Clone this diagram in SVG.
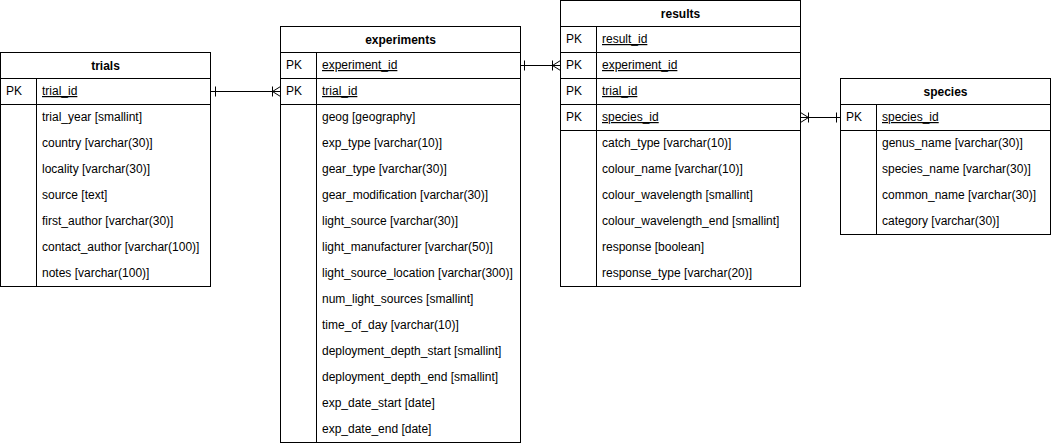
<svg xmlns="http://www.w3.org/2000/svg" width="1053" height="446" viewBox="0 0 1053 446">
  <style>
    .box { fill: #ffffff; stroke: #000000; stroke-width: 1; }
    .ln { fill: none; stroke: #000000; stroke-width: 1; }
    text { font-family: "Liberation Sans", Arial, sans-serif; font-size: 12px; fill: #000000; }
    .title { font-weight: bold; text-anchor: middle; }
    .key { text-decoration: underline; }
  </style>
  <rect width="1053" height="446" fill="#ffffff"/>

  <!-- trials table -->
  <g id="trials">
    <rect class="box" x="0.5" y="52.5" width="210" height="234"/>
    <path class="ln" d="M0.5 78.5H210.5M0.5 104.5H210.5M36.5 78.5V286.5"/>
    <text class="title" x="105.5" y="70">trials</text>
    <text x="6" y="95">PK</text>
    <text class="key" x="42" y="95">trial_id</text>
    <text x="42" y="121">trial_year [smallint]</text>
    <text x="42" y="147">country [varchar(30)]</text>
    <text x="42" y="173">locality [varchar(30)]</text>
    <text x="42" y="199">source [text]</text>
    <text x="42" y="225">first_author [varchar(30)]</text>
    <text x="42" y="251">contact_author [varchar(100)]</text>
    <text x="42" y="277">notes [varchar(100)]</text>
  </g>

  <!-- experiments table -->
  <g id="experiments">
    <rect class="box" x="280.5" y="26.5" width="240" height="416"/>
    <path class="ln" d="M280.5 52.5H520.5M280.5 78.5H520.5M280.5 104.5H520.5M316.5 52.5V442.5"/>
    <text class="title" x="400.5" y="44">experiments</text>
    <text x="286" y="69">PK</text>
    <text class="key" x="322" y="69">experiment_id</text>
    <text x="286" y="95">PK</text>
    <text class="key" x="322" y="95">trial_id</text>
    <text x="322" y="121">geog [geography]</text>
    <text x="322" y="147">exp_type [varchar(10)]</text>
    <text x="322" y="173">gear_type [varchar(30)]</text>
    <text x="322" y="199">gear_modification [varchar(30)]</text>
    <text x="322" y="225">light_source [varchar(30)]</text>
    <text x="322" y="251">light_manufacturer [varchar(50)]</text>
    <text x="322" y="277">light_source_location [varchar(300)]</text>
    <text x="322" y="303">num_light_sources [smallint]</text>
    <text x="322" y="329">time_of_day [varchar(10)]</text>
    <text x="322" y="355">deployment_depth_start [smallint]</text>
    <text x="322" y="381">deployment_depth_end [smallint]</text>
    <text x="322" y="407">exp_date_start [date]</text>
    <text x="322" y="433">exp_date_end [date]</text>
  </g>

  <!-- results table -->
  <g id="results">
    <rect class="box" x="560.5" y="0.5" width="240" height="286"/>
    <path class="ln" d="M560.5 26.5H800.5M560.5 52.5H800.5M560.5 78.5H800.5M560.5 104.5H800.5M560.5 130.5H800.5M596.5 26.5V286.5"/>
    <text class="title" x="680.5" y="18">results</text>
    <text x="566" y="43">PK</text>
    <text class="key" x="602" y="43">result_id</text>
    <text x="566" y="69">PK</text>
    <text class="key" x="602" y="69">experiment_id</text>
    <text x="566" y="95">PK</text>
    <text class="key" x="602" y="95">trial_id</text>
    <text x="566" y="121">PK</text>
    <text class="key" x="602" y="121">species_id</text>
    <text x="602" y="147">catch_type [varchar(10)]</text>
    <text x="602" y="173">colour_name [varchar(10)]</text>
    <text x="602" y="199">colour_wavelength [smallint]</text>
    <text x="602" y="225">colour_wavelength_end [smallint]</text>
    <text x="602" y="251">response [boolean]</text>
    <text x="602" y="277">response_type [varchar(20)]</text>
  </g>

  <!-- species table -->
  <g id="species">
    <rect class="box" x="840.5" y="78.5" width="210" height="156"/>
    <path class="ln" d="M840.5 104.5H1050.5M840.5 130.5H1050.5M876.5 104.5V234.5"/>
    <text class="title" x="945.5" y="96">species</text>
    <text x="846" y="121">PK</text>
    <text class="key" x="882" y="121">species_id</text>
    <text x="882" y="147">genus_name [varchar(30)]</text>
    <text x="882" y="173">species_name [varchar(30)]</text>
    <text x="882" y="199">common_name [varchar(30)]</text>
    <text x="882" y="225">category [varchar(30)]</text>
  </g>

  <!-- relationships -->
  <g id="connectors">
    <!-- trials.trial_id 1 — N experiments.trial_id -->
    <path class="ln" d="M210.5 91.5H280.5M215.5 86.5V96.5M272.5 86.5V96.5M272.5 91.5L280.5 86.5M272.5 91.5L280.5 96.5"/>
    <!-- experiments.experiment_id 1 — N results.experiment_id -->
    <path class="ln" d="M520.5 65.5H560.5M524.5 60.5V70.5M552.5 60.5V70.5M552.5 65.5L560.5 60.5M552.5 65.5L560.5 70.5"/>
    <!-- results.species_id N — 1 species.species_id -->
    <path class="ln" d="M800.5 117.5H840.5M808.5 112.5V122.5M808.5 117.5L800.5 112.5M808.5 117.5L800.5 122.5M836.5 112.5V122.5"/>
  </g>
</svg>
